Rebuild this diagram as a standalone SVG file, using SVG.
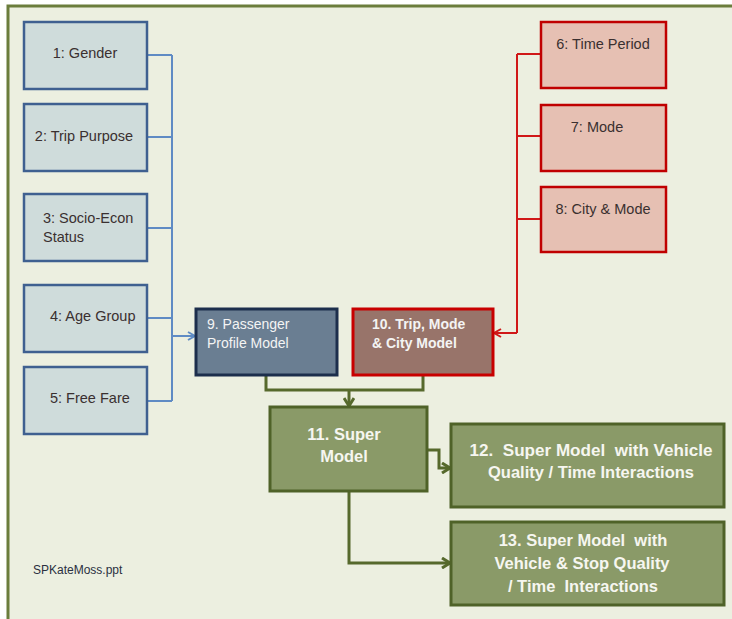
<svg xmlns="http://www.w3.org/2000/svg" width="732" height="619" viewBox="0 0 732 619">
<defs>
<style>
.bl{fill:#cfdcdb;stroke:#3f6090;stroke-width:2.5}
.rd{fill:#e6c0b3;stroke:#c00000;stroke-width:2.5}
.gn{fill:#8a9a68;stroke:#4f6228;stroke-width:3}
.t{font-family:"Liberation Sans",Arial,sans-serif;font-size:14.5px;fill:#3a3030}
.w{font-family:"Liberation Sans",Arial,sans-serif;font-size:14px;fill:#f4f4f4}
.wb{font-family:"Liberation Sans",Arial,sans-serif;font-size:16.5px;font-weight:bold;fill:#f6f6f0;white-space:pre}
.cb{fill:none;stroke:#5f8bc4;stroke-width:2}
.cr{fill:none;stroke:#d01818;stroke-width:2}
.cg{fill:none;stroke:#56692c;stroke-width:3}
</style>
<marker id="ab" markerWidth="10" markerHeight="10" refX="8" refY="5" orient="auto" markerUnits="userSpaceOnUse"><path d="M1,1 L8,5 L1,9" fill="none" stroke="#5f8bc4" stroke-width="2"/></marker>
<marker id="ar" markerWidth="10" markerHeight="10" refX="8" refY="5" orient="auto" markerUnits="userSpaceOnUse"><path d="M1,1 L8,5 L1,9" fill="none" stroke="#d01818" stroke-width="2"/></marker>
<marker id="ag" markerWidth="12" markerHeight="12" refX="9" refY="6" orient="auto" markerUnits="userSpaceOnUse"><path d="M1,1 L9,6 L1,11" fill="none" stroke="#56692c" stroke-width="3"/></marker>
</defs>
<rect x="0" y="0" width="732" height="619" fill="#ffffff"/>
<rect x="8" y="6" width="740" height="630" fill="#ecefe0" stroke="#6b7d3c" stroke-width="3"/>

<g id="connectors">
<path class="cb" d="M147,55 H172 M147,137 H172 M147,228 H172 M147,318 H172 M147,401 H172 M172,55 V401"/>
<path class="cb" d="M172,336 H195" marker-end="url(#ab)"/>
<path class="cr" d="M541,54 H517 M541,136 H517 M541,219 H517 M517,54 V333"/>
<path class="cr" d="M517,333 H494" marker-end="url(#ar)"/>
<path class="cg" d="M266,375 V390 H423 V375"/>
<path class="cg" d="M349,390 V406" marker-end="url(#ag)"/>
<path class="cg" d="M427,450 H439 V468 H450" marker-end="url(#ag)"/>
<path class="cg" d="M349,491 V563 H450" marker-end="url(#ag)"/>
</g>

<g id="n1"><rect class="bl" x="24" y="22" width="123" height="67"/><text class="t" x="85" y="58" text-anchor="middle">1: Gender</text></g>
<g id="n2"><rect class="bl" x="24" y="104" width="123" height="67"/><text class="t" x="84" y="141" text-anchor="middle">2: Trip Purpose</text></g>
<g id="n3"><rect class="bl" x="24" y="194" width="123" height="67"/><text class="t" x="43" y="223">3: Socio-Econ</text><text class="t" x="43" y="242">Status</text></g>
<g id="n4"><rect class="bl" x="24" y="285" width="123" height="67"/><text class="t" x="50" y="321">4: Age Group</text></g>
<g id="n5"><rect class="bl" x="24" y="367" width="123" height="67"/><text class="t" x="50" y="403">5: Free Fare</text></g>

<g id="n6"><rect class="rd" x="541" y="22" width="125" height="66"/><text class="t" x="603" y="49" text-anchor="middle">6: Time Period</text></g>
<g id="n7"><rect class="rd" x="541" y="105" width="125" height="66"/><text class="t" x="597" y="132" text-anchor="middle">7: Mode</text></g>
<g id="n8"><rect class="rd" x="541" y="187" width="125" height="65"/><text class="t" x="603" y="214" text-anchor="middle">8: City &amp; Mode</text></g>

<g id="n9"><rect x="196" y="309" width="141" height="66" fill="#6a7e92" stroke="#1c2e4c" stroke-width="3"/><text class="w" x="207" y="329">9. Passenger</text><text class="w" x="207" y="348">Profile Model</text></g>
<g id="n10"><rect x="353" y="309" width="140" height="66" fill="#98746a" stroke="#c80000" stroke-width="3"/><text class="w" x="372" y="329" font-weight="bold" font-size="14.5">10. Trip, Mode</text><text class="w" x="372" y="348" font-weight="bold" font-size="14.5">&amp; City Model</text></g>

<g id="n11"><rect class="gn" x="270" y="407" width="157" height="84"/><text class="wb" x="344" y="440" text-anchor="middle">11. Super</text><text class="wb" x="344" y="462" text-anchor="middle">Model</text></g>
<g id="n12"><rect class="gn" x="451" y="424" width="273" height="83"/><text class="wb" x="591" y="456" text-anchor="middle" textLength="243" lengthAdjust="spacingAndGlyphs">12.  Super Model  with Vehicle</text><text class="wb" x="591" y="478" text-anchor="middle">Quality / Time Interactions</text></g>
<g id="n13"><rect class="gn" x="451" y="522" width="273" height="83"/><text class="wb" x="583" y="546" text-anchor="middle">13. Super Model  with</text><text class="wb" x="582" y="569" text-anchor="middle">Vehicle &amp; Stop Quality</text><text class="wb" x="583" y="592" text-anchor="middle">/ Time  Interactions</text></g>

<text x="33" y="574" font-family="'Liberation Sans',Arial,sans-serif" font-size="12" fill="#2a3040">SPKateMoss.ppt</text>
</svg>
